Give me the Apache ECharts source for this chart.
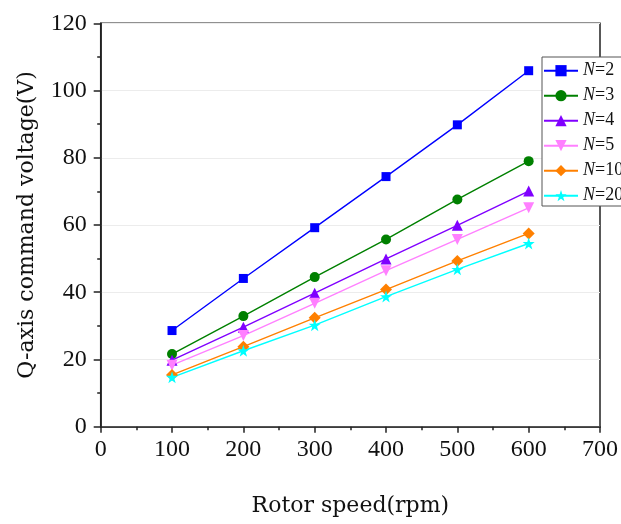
<!DOCTYPE html>
<html>
<head>
<meta charset="utf-8">
<script src="https://cdn.jsdelivr.net/npm/echarts@6/dist/echarts.min.js"></script>
<style>
  html, body { margin: 0; padding: 0; background: #fff; }
  #chart { width: 621px; height: 524px; }
</style>
</head>
<body>
<div id="chart"></div>
<script>
// Rotor speed (rpm) on the x axis
const speeds = [100, 200, 300, 400, 500, 600];

// Q-axis command voltage (V) for each N
const seriesNames = ['N=2', 'N=3', 'N=4', 'N=5', 'N=10', 'N=20'];
const vN2  = [28.6, 44.1, 59.2, 74.4, 89.8, 105.9];
const vN3  = [21.6, 32.9, 44.5, 55.7, 67.6, 79.0];
const vN4  = [19.8, 29.6, 39.7, 49.9, 59.9, 70.1];
const vN5  = [18.3, 27.1, 36.7, 46.4, 55.7, 65.1];
const vN10 = [15.4, 23.8, 32.4, 40.8, 49.3, 57.5];
const vN20 = [14.7, 22.6, 30.2, 38.7, 46.8, 54.5];

const xTicks = [0, 100, 200, 300, 400, 500, 600, 700];
const yTicks = [0, 20, 40, 60, 80, 100, 120];

const starPath = 'path://M50,0 L61.8,35.3 L99,35.3 L69,57.4 L80.3,93 L50,71.3 L19.7,93 L31,57.4 L1,35.3 L38.2,35.3 Z';

const styles = [
  { color: '#0000ff', symbol: 'rect', size: 9, rotate: 0 },
  { color: '#008000', symbol: 'circle', size: 10, rotate: 0 },
  { color: '#8000ff', symbol: 'triangle', size: 11, rotate: 0 },
  { color: '#ff80ff', symbol: 'triangle', size: 11, rotate: 180 },
  { color: '#ff8000', symbol: 'diamond', size: 12, rotate: 0 },
  { color: '#00ffff', symbol: starPath, size: 12, rotate: 0 }
];
const values = [vN2, vN3, vN4, vN5, vN10, vN20];

const serif = '"Liberation Serif", "Times New Roman", serif';
const titleFont = '"DejaVu Serif", serif';

const chart = echarts.init(document.getElementById('chart'), null, { renderer: 'canvas' });

const series = seriesNames.map((name, i) => ({
  name: name,
  type: 'line',
  data: speeds.map((s, j) => [s, values[i][j]]),
  symbol: styles[i].symbol,
  symbolSize: styles[i].size,
  symbolRotate: styles[i].rotate,
  showAllSymbol: true,
  lineStyle: { color: styles[i].color, width: 1.4 },
  itemStyle: { color: styles[i].color },
  emphasis: { disabled: true }
}));

chart.setOption({
  animation: false,
  backgroundColor: '#fff',
  grid: {
    left: 100.7, right: 19.3, top: 23.3, bottom: 97.3,
    show: true, borderColor: '#222', borderWidth: 1.5,
    backgroundColor: 'transparent'
  },
  xAxis: {
    type: 'value',
    min: xTicks[0], max: xTicks[xTicks.length - 1], interval: 100,
    name: 'Rotor speed(rpm)',
    nameLocation: 'middle',
    nameGap: 69,
    nameTextStyle: { fontFamily: titleFont, fontSize: 22, color: '#111' },
    axisLine: { onZero: false, lineStyle: { color: '#222', width: 1.7 } },
    axisTick: { inside: false, length: 6, lineStyle: { color: '#222', width: 1.5 } },
    minorTick: { show: true, splitNumber: 2, length: 3.5, lineStyle: { color: '#222', width: 1.5 } },
    axisLabel: { fontFamily: serif, fontSize: 24, color: '#111', margin: 11 },
    splitLine: { show: false }
  },
  yAxis: {
    type: 'value',
    min: yTicks[0], max: yTicks[yTicks.length - 1], interval: 20,
    name: 'Q-axis command voltage(V)',
    nameLocation: 'middle',
    nameGap: 62,
    nameTextStyle: { fontFamily: titleFont, fontSize: 22, color: '#111' },
    axisLine: { show: true, onZero: false, lineStyle: { color: '#222', width: 1.7 } },
    axisTick: { show: true, inside: false, length: 7, lineStyle: { color: '#222', width: 1.5 } },
    minorTick: { show: true, splitNumber: 2, length: 3.5, lineStyle: { color: '#222', width: 1.5 } },
    axisLabel: { fontFamily: serif, fontSize: 24, color: '#111', margin: 14 },
    splitLine: { show: true, lineStyle: { color: '#ececec', width: 1 } }
  },
  legend: {
    orient: 'vertical',
    left: 542, top: 57,
    padding: [4.7, 40, 1.3, 1],
    itemWidth: 34, itemHeight: 14, itemGap: 7,
    backgroundColor: '#fff',
    borderColor: '#555', borderWidth: 1,
    data: seriesNames,
    formatter: name => '{i|N}{n|' + name.slice(1) + '}',
    textStyle: {
      color: '#111',
      rich: {
        i: { fontFamily: serif, fontSize: 18, fontStyle: 'italic', color: '#111' },
        n: { fontFamily: serif, fontSize: 18, color: '#111' }
      }
    }
  },
  series: series
});
</script>
</body>
</html>
